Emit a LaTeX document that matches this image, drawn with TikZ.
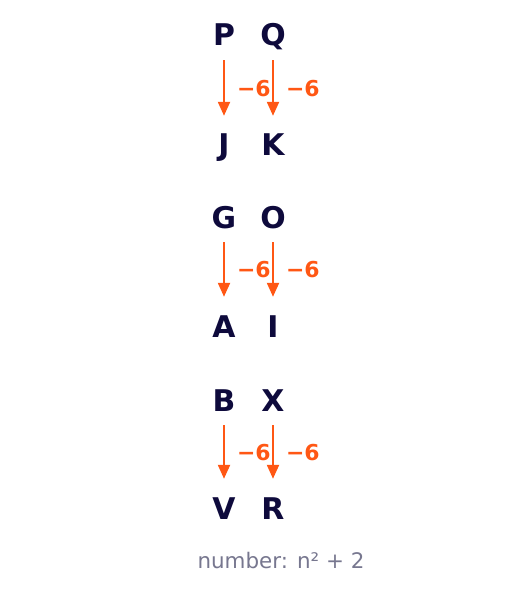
\documentclass[tikz,border=0pt]{standalone}
\usepackage{fontspec}
\setmainfont{DejaVu Sans}
\usetikzlibrary{arrows.meta}
\definecolor{navy}{HTML}{0E0A3C}
\definecolor{orng}{HTML}{FF5714}
\definecolor{capgray}{HTML}{77778F}
\begin{document}
\begin{tikzpicture}[x=1bp,y=-1bp,
  letter/.style={font=\fontsize{30}{30}\selectfont\bfseries, text=navy, inner sep=0pt, text height=22bp, text depth=0bp},
  conn/.style={draw=orng, line width=2.2bp, -{Triangle[length=14bp,width=12bp]}, shorten <=14bp, shorten >=18bp},
  lbl/.style={font=\fontsize{22}{22}\selectfont\bfseries, text=orng, right, inner sep=0pt, xshift=12bp, yshift=1.5bp},
  captext/.style={font=\fontsize{21.5}{21.5}\selectfont, text=capgray}]
\useasboundingbox (0,0) rectangle (520,595);
\node[letter] (P) at (224,35) {P};
\node[letter] (Q) at (273,35) {Q};
\node[letter] (J) at (224,145) {J};
\node[letter] (K) at (273,145) {K};
\node[letter] (G) at (224,217) {G};
\node[letter] (O) at (273,217) {O};
\node[letter] (A) at (224,326) {A};
\node[letter] (I) at (273,326) {I};
\node[letter] (B) at (224,400) {B};
\node[letter] (X) at (273,400) {X};
\node[letter] (V) at (224,508) {V};
\node[letter] (R) at (273,508) {R};
\draw[conn] (P) -- node[lbl] {−6} (J);
\draw[conn] (Q) -- node[lbl] {−6} (K);
\draw[conn] (G) -- node[lbl] {−6} (A);
\draw[conn] (O) -- node[lbl] {−6} (I);
\draw[conn] (B) -- node[lbl] {−6} (V);
\draw[conn] (X) -- node[lbl] {−6} (R);
\node[captext] (caption) at (281,561) {number: n² + 2};
\end{tikzpicture}
\end{document}
